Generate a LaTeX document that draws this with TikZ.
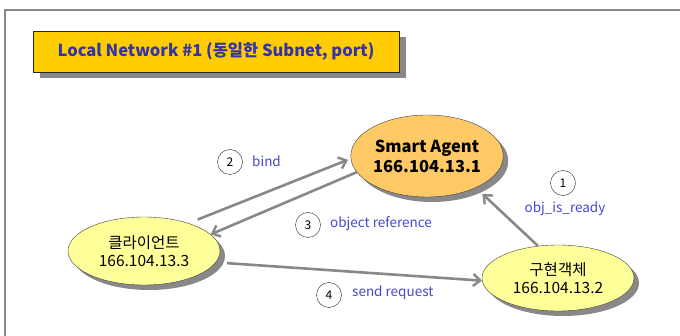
\documentclass[tikz,border=0pt]{standalone}
\usepackage{fontspec}
\setmainfont{Noto Sans CJK KR}
\usetikzlibrary{shapes.geometric}
\usetikzlibrary{arrows.meta}
\usetikzlibrary{shadows}
\definecolor{titlegold}{HTML}{FFCC00}
\definecolor{agentorange}{HTML}{FFC966}
\definecolor{nodeyellow}{HTML}{FFFF99}
\definecolor{shadowgray}{HTML}{888888}
\definecolor{msgblue}{HTML}{4646D2}
\definecolor{titleblue}{HTML}{3333AA}

\begin{document}
\begin{tikzpicture}[x=1pt,y=-1pt,
  bubble/.style={ellipse,draw=black!75,fill=#1,align=center,inner sep=0pt,
    font=\fontsize{15.5}{18}\selectfont,
    drop shadow={shadow xshift=5pt,shadow yshift=-5pt,fill=shadowgray,opacity=1}},
  numcircle/.style={circle,draw=black!85,fill=white,minimum size=25pt,inner sep=0pt,
    font=\fontsize{12}{12}\selectfont},
  msglabel/.style={text=msgblue,inner sep=0pt,font=\fontsize{13.5}{14}\selectfont},
  msgarrow/.style={draw=shadowgray,line width=2.6pt,
    -{Straight Barb[length=7pt,width=12pt,line width=2.4pt]}}]
\useasboundingbox (0,0) rectangle (680,336);
\draw[shadowgray,line width=2pt] (690,10) -- (5,10) -- (5,346);
\node (title) at (216,51.5) [draw=black!85,fill=titlegold,minimum width=366pt,minimum height=41pt,
  text=titleblue,font=\fontsize{16.5}{17}\selectfont\bfseries,
  drop shadow={shadow xshift=7pt,shadow yshift=-6pt,fill=shadowgray,opacity=1}]
  {Local Network \#1 (동일한 Subnet, port)};
\node (agent) at (427,156) [bubble=agentorange,minimum width=150pt,minimum height=82pt,
  font=\fontsize{16.5}{20}\selectfont\bfseries] {Smart Agent\\166.104.13.1};
\node (client) at (144,251) [bubble=nodeyellow,minimum width=152pt,minimum height=68pt] {클라이언트\\166.104.13.3};
\node (impl) at (558,278) [bubble=nodeyellow,minimum width=152pt,minimum height=66pt] {구현객체\\166.104.13.2};
\node (n1) at (563,183) [numcircle] {1};
\node (n2) at (230,162) [numcircle] {2};
\node (n3) at (308,225) [numcircle] {3};
\node (n4) at (329,295) [numcircle] {4};
\node (ready) at (565,209) [msglabel] {obj\_is\_ready};
\node (bind) at (252,161) [msglabel,anchor=west] {bind};
\node (objref) at (330,224) [msglabel,anchor=west] {object reference};
\node (send) at (352,293) [msglabel,anchor=west] {send request};
\draw[msgarrow,shorten <=10pt,shorten >=3pt] (client.32) -- (agent.182);
\draw[msgarrow] (agent.193) -- (client.14);
\draw[msgarrow,shorten <=11pt] (client.-9) -- (impl.182);
\draw[msgarrow,shorten >=9pt] (impl.122) -- (agent.-33);
\end{tikzpicture}
\end{document}
